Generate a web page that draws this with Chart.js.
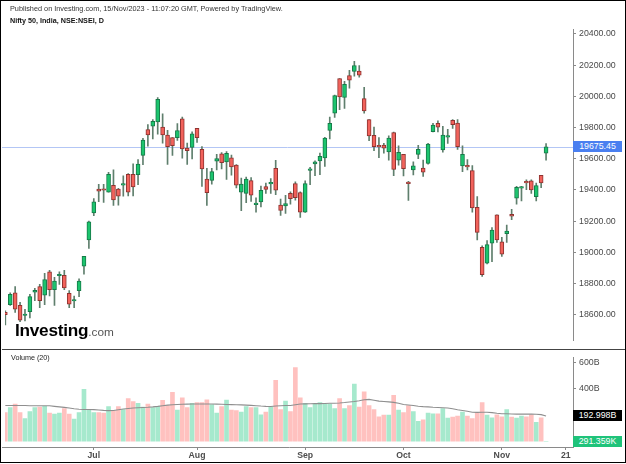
<!DOCTYPE html>
<html>
<head>
<meta charset="utf-8">
<script src="https://cdn.jsdelivr.net/npm/chart.js@4.4.0/dist/chart.umd.min.js"></script>
<style>
  html, body { margin: 0; padding: 0; background: #fff; }
  #wrap { position: relative; width: 626px; height: 464px; overflow: hidden; font-family: Arial, "Liberation Sans", sans-serif; }
  #frame { position: absolute; left: 0; top: 0; width: 624px; height: 461px; border: 1px solid #000; pointer-events: none; }
  canvas { position: absolute; left: 0; }
  #price { top: 0; }
  #volume { top: 349px; }
  .txt { position: absolute; white-space: nowrap; }
  #pub { left: 10px; top: 4px; font-size: 7.3px; color: #333; }
  #sym { left: 10px; top: 16px; font-size: 7.2px; font-weight: bold; color: #111; }
  #volTitle { left: 11px; top: 353px; font-size: 7.2px; color: #222; }
  #logo { left: 15px; top: 320px; font-size: 17.2px; font-weight: bold; color: #000; letter-spacing: -0.25px; }
  #logo span { font-size: 11.8px; font-weight: normal; color: #555; letter-spacing: 0; }
  #sep { position: absolute; left: 2px; top: 349px; width: 623px; height: 1px; background: #444; }
  .box { position: absolute; left: 573px; width: 49px; height: 11px; line-height: 11px; font-size: 8.8px; color: #fff; text-align: center; }
</style>
</head>
<body>
<div id="wrap">
  <canvas id="price" width="626" height="349"></canvas>
  <canvas id="volume" width="626" height="115"></canvas>
  <div id="sep"></div>
  <div class="txt" id="pub">Published on Investing.com, 15/Nov/2023 - 11:07:20 GMT, Powered by TradingView.</div>
  <div class="txt" id="sym">Nifty 50, India, NSE:NSEI, D</div>
  <div class="txt" id="volTitle">Volume (20)</div>
  <div class="txt" id="logo">Investing<span>.com</span></div>
  <div class="box" id="lastBox" style="background:#4a7ff0"></div>
  <div class="box" id="maBox" style="background:#000"></div>
  <div class="box" id="volBox" style="background:#1fc37a"></div>
  <div id="frame"></div>
</div>
<script>
// daily bars, 6 Jun 2023 .. 15 Nov 2023 (index 0 = 6 Jun)
const dates = ['Jun 6','Jun 7','Jun 8','Jun 9','Jun 12','Jun 13','Jun 14','Jun 15','Jun 16','Jun 19','Jun 20','Jun 21','Jun 22','Jun 23','Jun 26','Jun 27','Jun 28','Jun 30',
  'Jul 3','Jul 4','Jul 5','Jul 6','Jul 7','Jul 10','Jul 11','Jul 12','Jul 13','Jul 14','Jul 17','Jul 18','Jul 19','Jul 20','Jul 21','Jul 24','Jul 25','Jul 26','Jul 27','Jul 28','Jul 31',
  'Aug 1','Aug 2','Aug 3','Aug 4','Aug 7','Aug 8','Aug 9','Aug 10','Aug 11','Aug 14','Aug 16','Aug 17','Aug 18','Aug 21','Aug 22','Aug 23','Aug 24','Aug 25','Aug 28','Aug 29','Aug 30','Aug 31',
  'Sep 1','Sep 4','Sep 5','Sep 6','Sep 7','Sep 8','Sep 11','Sep 12','Sep 13','Sep 14','Sep 15','Sep 18','Sep 20','Sep 21','Sep 22','Sep 25','Sep 26','Sep 27','Sep 28','Sep 29',
  'Oct 3','Oct 4','Oct 5','Oct 6','Oct 9','Oct 10','Oct 11','Oct 12','Oct 13','Oct 16','Oct 17','Oct 18','Oct 19','Oct 20','Oct 23','Oct 25','Oct 26','Oct 27','Oct 30','Oct 31',
  'Nov 1','Nov 2','Nov 3','Nov 6','Nov 7','Nov 8','Nov 9','Nov 10','Nov 13','Nov 15'];

const opens = [18615,18665,18740,18660,18595,18620,18745,18780,18725,18875,18760,18850,18852,18738,18688,18755,18912,19080,
  19253,19405,19405,19386,19430,19405,19430,19500,19500,19497,19621,19787,19808,19835,19802,19752,19735,19735,19856,19668,19673,
  19794,19660,19469,19461,19584,19631,19579,19606,19559,19386,19378,19459,19305,19323,19422,19438,19538,19303,19298,19378,19440,19383,
  19258,19525,19567,19586,19605,19781,19891,20114,19993,20133,20160,20162,19985,19850,19750,19679,19687,19643,19767,19591,
  19628,19448,19528,19628,19540,19569,19773,19827,19656,19738,19846,19829,19553,19549,19524,19288,19032,18930,19059,19240,
  19067,19119,19243,19347,19411,19455,19458,19357,19493,19635];
const highs = [18625,18740,18780,18680,18635,18730,18770,18795,18865,18885,18840,18875,18885,18755,18720,18830,18975,19200,
  19345,19435,19435,19512,19528,19410,19490,19505,19567,19595,19731,19819,19851,19991,19887,19782,19735,19825,19867,19700,19772,
  19795,19678,19538,19538,19628,19640,19645,19623,19562,19475,19482,19479,19350,19425,19443,19472,19590,19341,19366,19388,19452,19388,
  19458,19545,19587,19636,19737,19867,20008,20114,20096,20167,20224,20197,20058,19850,19802,19735,19699,19747,19770,19683,
  19628,19455,19580,19685,19591,19699,19826,19843,19808,19788,19850,19851,19683,19594,19556,19357,19041,19076,19158,19240,
  19096,19175,19276,19423,19423,19464,19464,19444,19494,19697];
const lows = [18535,18660,18615,18555,18560,18580,18690,18645,18665,18720,18660,18795,18760,18645,18645,18715,18860,19025,
  19235,19325,19320,19385,19300,19302,19360,19362,19361,19433,19562,19681,19727,19758,19700,19563,19621,19717,19603,19563,19598,
  19704,19423,19300,19436,19528,19534,19467,19495,19412,19267,19319,19326,19257,19291,19377,19378,19369,19236,19249,19309,19334,19224,
  19255,19433,19492,19497,19550,19727,19865,19914,19923,20052,20129,20122,19891,19715,19652,19606,19636,19591,19492,19558,
  19490,19333,19496,19600,19487,19565,19771,19772,19642,19698,19794,19660,19517,19528,19257,19080,18845,18926,18940,19064,
  18973,19064,19210,19309,19329,19401,19378,19329,19414,19590];
const closes = [18600,18730,18635,18565,18602,18716,18756,18690,18826,18760,18816,18857,18772,18668,18692,18816,18975,19195,
  19324,19392,19398,19500,19336,19360,19440,19386,19419,19566,19719,19752,19840,19981,19752,19677,19684,19781,19662,19652,19760,
  19735,19535,19382,19517,19600,19575,19635,19548,19430,19438,19469,19367,19315,19398,19403,19449,19398,19268,19313,19344,19350,19257,
  19440,19531,19580,19615,19732,19827,20004,19996,20077,20103,20197,20135,19906,19746,19677,19676,19667,19732,19531,19641,
  19536,19440,19554,19660,19513,19694,19815,19802,19752,19740,19818,19677,19628,19548,19284,19128,18857,19049,19142,19080,
  18988,19136,19232,19417,19413,19444,19400,19428,19444,19675.45];

// volume in billions, and its 20-day average as drawn
const volumes = [219,256,284,219,172,226,256,260,267,214,207,214,249,207,168,219,395,242,
  219,219,214,265,233,265,242,326,302,288,260,284,256,267,312,272,372,237,330,256,288,
  295,295,316,279,214,265,314,237,233,223,265,256,256,202,223,260,465,242,307,226,562,330,
  288,256,284,295,284,284,249,326,249,272,435,260,377,272,242,186,200,200,349,237,
  219,272,226,151,163,214,209,209,249,177,184,191,223,191,172,219,295,200,179,202,
  186,242,184,177,191,186,202,144,179,0.000291359];
const volMa = [272,272,272,272,272,271,271,271,270,270,266,262,258,253,248,244,242,242,
  241,238,235,233,234,240,246,250,253,255,257,259,262,266,271,275,278,280,282,283,284,
  284,284,284,284,283,282,280,279,278,277,275,273,271,268,266,265,268,270,272,272,278,284,
  285,286,287,287,288,289,290,292,295,299,303,309,316,319,313,306,303,300,296,290,
  280,276,272,267,264,262,259,257,255,253,248,240,234,228,221,220,221,221,218,213,
  210,209,208,207,207,207,207,206,203,193];

const lastPrice = 19675.45;
const lastMa = 192.998;
const priceTicks = [18600,18800,19000,19200,19400,19600,19800,20000,20200,20400];
const volTicks = [400,600];
const monthTicks = {18:'Jul',39:'Aug',61:'Sep',81:'Oct',101:'Nov',114:'21'};

const upBody = '#1cc46e', downBody = '#f2625b';
const upEdge = '#167a48', downEdge = '#8e3330';
const wickColor = '#5f7f6d';
const upVol = '#a6e9cd', downVol = '#ffc1bf';

const idx = dates.map((d, i) => i);
const isUp = i => closes[i] >= opens[i];
// plot starts at x=5, first bar sits right on that edge
const xRange = { min: -0.065, max: 115.48 };

function fixWidth(scale) { scale.width = 53; }

const priceLine = {
  id: 'priceLine',
  beforeDatasetsDraw(chart) {
    const y = chart.scales.y.getPixelForValue(lastPrice);
    const ctx = chart.ctx;
    ctx.save();
    ctx.strokeStyle = '#b3c6f5';
    ctx.lineWidth = 1;
    ctx.beginPath();
    ctx.moveTo(2, Math.round(y) + 0.5);
    ctx.lineTo(chart.chartArea.right, Math.round(y) + 0.5);
    ctx.stroke();
    ctx.restore();
  }
};

const priceChart = new Chart(document.getElementById('price'), {
  type: 'bar',
  data: {
    datasets: [
      {
        label: 'wick',
        data: idx.map(i => ({ x: i, y: [lows[i], highs[i]] })),
        backgroundColor: wickColor,
        barThickness: 1,
        grouped: false,
        order: 2
      },
      {
        label: 'Nifty 50',
        data: idx.map(i => ({ x: i, y: [opens[i], closes[i]] })),
        backgroundColor: idx.map(i => isUp(i) ? upBody : downBody),
        borderColor: idx.map(i => isUp(i) ? upEdge : downEdge),
        borderWidth: 1,
        borderSkipped: false,
        barThickness: 4,
        minBarLength: 1.5,
        grouped: false,
        order: 1
      }
    ]
  },
  options: {
    responsive: false,
    animation: false,
    events: [],
    layout: { padding: { top: 29, left: 5, right: 0, bottom: 0 } },
    plugins: { legend: { display: false }, tooltip: { enabled: false } },
    scales: {
      x: { type: 'linear', offset: false, min: xRange.min, max: xRange.max, display: false },
      y: {
        position: 'right',
        min: 18433.5,
        max: 20431.2,
        afterFit: fixWidth,
        afterBuildTicks: s => { s.ticks = priceTicks.map(v => ({ value: v })); },
        grid: { drawOnChartArea: false, tickLength: 3, color: '#8a8a8a' },
        border: { display: true, color: '#8a8a8a', width: 1 },
        ticks: {
          padding: 3,
          color: '#4a4a4a',
          font: { family: 'Arial, "Liberation Sans", sans-serif', size: 8.8 },
          callback: v => v.toFixed(2)
        }
      }
    }
  },
  plugins: [priceLine]
});

const axisLine = {
  id: 'axisLine',
  afterDraw(chart) {
    // time axis line runs from the frame edge, under the clipped first bar
    const ctx = chart.ctx;
    ctx.save();
    ctx.strokeStyle = '#8a8a8a';
    ctx.lineWidth = 1;
    ctx.beginPath();
    ctx.moveTo(2, chart.chartArea.bottom + 0.5);
    ctx.lineTo(chart.chartArea.left, chart.chartArea.bottom + 0.5);
    ctx.stroke();
    ctx.restore();
  }
};

const volChart = new Chart(document.getElementById('volume'), {
  type: 'bar',
  data: {
    datasets: [
      {
        type: 'line',
        label: 'Volume MA',
        data: idx.map(i => ({ x: i, y: volMa[i] })),
        borderColor: '#8f8f8f',
        borderWidth: 1.1,
        pointRadius: 0,
        tension: 0,
        order: 0
      },
      {
        label: 'Volume',
        data: idx.map(i => ({ x: i, y: volumes[i] })),
        backgroundColor: idx.map(i => isUp(i) ? upVol : downVol),
        barThickness: 4,
        grouped: false,
        order: 1
      }
    ]
  },
  options: {
    responsive: false,
    animation: false,
    events: [],
    layout: { padding: { top: 0, left: 5, right: 0, bottom: 0 } },
    plugins: { legend: { display: false }, tooltip: { enabled: false } },
    scales: {
      x: {
        type: 'linear',
        offset: false,
        min: xRange.min,
        max: xRange.max,
        afterFit: s => { s.height = 17; },
        afterBuildTicks: s => { s.ticks = Object.keys(monthTicks).map(v => ({ value: +v })); },
        grid: { drawOnChartArea: false, offset: false, tickLength: 3, color: '#8a8a8a' },
        border: { display: true, color: '#8a8a8a', width: 1 },
        ticks: {
          padding: 0,
          maxRotation: 0,
          autoSkip: false,
          color: '#4d4d4d',
          font: { family: 'Arial, "Liberation Sans", sans-serif', size: 8.7, weight: 'bold' },
          callback: v => monthTicks[v]
        }
      },
      y: {
        position: 'right',
        min: -44,
        max: 640,
        afterFit: fixWidth,
        afterBuildTicks: s => { s.ticks = volTicks.map(v => ({ value: v })); },
        grid: { drawOnChartArea: false, tickLength: 3, color: '#8a8a8a' },
        border: { display: true, color: '#8a8a8a', width: 1 },
        ticks: {
          padding: 3,
          color: '#4a4a4a',
          font: { family: 'Arial, "Liberation Sans", sans-serif', size: 8.8 },
          callback: v => v + 'B'
        }
      }
    }
  },
  plugins: [axisLine]
});

// value tags on the right axis
function placeBox(id, text, y) {
  const el = document.getElementById(id);
  el.textContent = text;
  el.style.top = (y - 5.5) + 'px';
}
placeBox('lastBox', lastPrice.toFixed(2), priceChart.scales.y.getPixelForValue(lastPrice));
placeBox('maBox', lastMa.toFixed(3) + 'B', 349 + volChart.scales.y.getPixelForValue(lastMa));
placeBox('volBox', '291.359K', 349 + volChart.scales.y.getPixelForValue(volumes[volumes.length - 1]));
</script>
</body>
</html>
